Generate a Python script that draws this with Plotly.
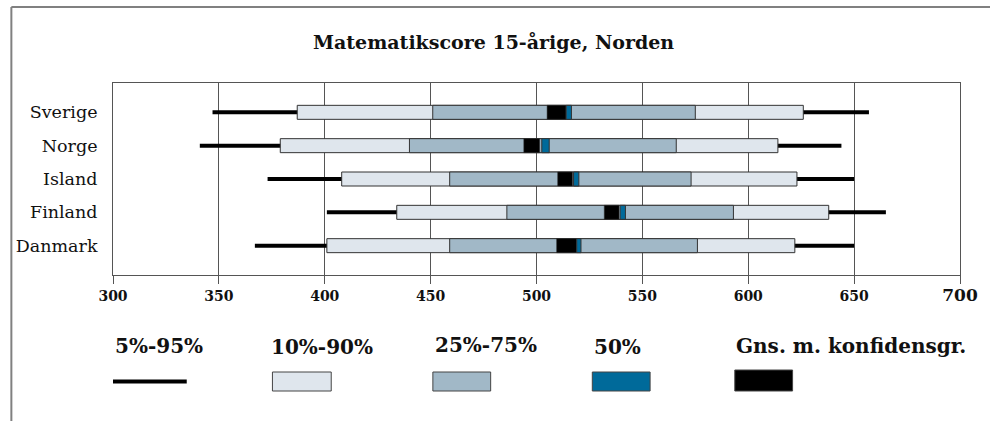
import plotly.graph_objects as go

countries = ["Sverige", "Norge", "Island", "Finland", "Danmark"]
p5 = [347, 341, 373, 401, 367]
p10 = [387, 379, 408, 434, 401]
p25 = [451, 440, 459, 486, 459]
mean_lo = [505, 494, 510, 532, 509.5]
mean_hi = [514, 501.5, 517, 539, 519]
median_lo = [514, 502.5, 517.5, 539.5, 519]
median_hi = [516.5, 506, 520, 542, 521]
p75 = [575, 566, 573, 593, 576]
p90 = [626, 614, 623, 638, 622]
p95 = [657, 644, 650, 665, 650]

tick_vals = [300, 350, 400, 450, 500, 550, 600, 650, 700]
tick_text = ["<b>300</b>", "<b>350</b>", "<b>400</b>", "<b>450</b>", "<b>500</b>",
             "<b>550</b>", "<b>600</b>", "<b>650</b>",
             "<b><span style='font-size:17px'>700</span></b>"]

legend_labels = ["5%-95%", "10%-90%", "25%-75%", "50%", "Gns. m. konfidensgr."]

C_LIGHT = "#dfe6ed"
C_MID = "#a1b8c7"
C_BLUE = "#006a9a"
C_BLACK = "#000000"
OUTLINE = "#333333"
FONT = "DejaVu Serif"

W, H = 990, 421
L, R, T, B = 113, 963, 83, 275


def px(x):
    return (x - L) / (R - L)


def py(y):
    return (B - y) / (B - T)


def span(lo, hi):
    return [h - l for l, h in zip(lo, hi)]


fig = go.Figure()
fig.add_trace(go.Bar(y=countries, base=p5, x=span(p5, p95), orientation="h",
                     width=0.12, marker=dict(color=C_BLACK, line=dict(width=0)),
                     name="5%-95%", hoverinfo="skip"))
fig.add_trace(go.Bar(y=countries, base=p10, x=span(p10, p90), orientation="h",
                     width=0.42, marker=dict(color=C_LIGHT, line=dict(width=1, color=OUTLINE)),
                     name="10%-90%"))
fig.add_trace(go.Bar(y=countries, base=p25, x=span(p25, p75), orientation="h",
                     width=0.42, marker=dict(color=C_MID, line=dict(width=1, color=OUTLINE)),
                     name="25%-75%"))
fig.add_trace(go.Bar(y=countries, base=mean_lo, x=span(mean_lo, mean_hi), orientation="h",
                     width=0.42, marker=dict(color=C_BLACK, line=dict(width=0.5, color=OUTLINE)),
                     name="Gns. m. konfidensgr."))
fig.add_trace(go.Bar(y=countries, base=median_lo, x=span(median_lo, median_hi), orientation="h",
                     width=0.42, marker=dict(color=C_BLUE, line=dict(width=1, color=OUTLINE)),
                     name="50%"))

fig.update_layout(
    width=W, height=H,
    margin=dict(l=L, r=W - R, t=T, b=H - B, pad=0),
    barmode="overlay",
    showlegend=False,
    plot_bgcolor="white", paper_bgcolor="white",
    font=dict(family=FONT, color="#111111"),
)
fig.update_xaxes(range=[300, 700], tickvals=tick_vals, ticktext=tick_text,
                 showgrid=True, gridcolor="#555555", gridwidth=1,
                 showline=True, linecolor="#555555", linewidth=1, mirror=True,
                 ticks="outside", ticklen=8, tickcolor="#555555",
                 tickfont=dict(family=FONT, size=14, color="#111111"),
                 zeroline=False)
fig.update_yaxes(categoryorder="array", categoryarray=countries,
                 range=[4.88, -0.88], showgrid=False,
                 showline=True, linecolor="#555555", linewidth=1, mirror=True,
                 ticks="", ticklabelstandoff=11,
                 tickfont=dict(family=FONT, size=17.5, color="#111111"))

shapes = []
# outer border (top and left)
shapes.append(dict(type="line", xref="paper", yref="paper", x0=px(11), x1=px(995),
                   y0=py(7), y1=py(7), line=dict(color="#808080", width=2)))
shapes.append(dict(type="line", xref="paper", yref="paper", x0=px(11), x1=px(11),
                   y0=py(7), y1=py(425), line=dict(color="#808080", width=2)))
# legend swatches
shapes.append(dict(type="line", xref="paper", yref="paper", x0=px(113), x1=px(187),
                   y0=py(381.5), y1=py(381.5), line=dict(color=C_BLACK, width=4)))
for x0, x1, col, y0, y1 in [(273, 332, C_LIGHT, 372, 391), (434, 492, C_MID, 372, 391),
                            (594, 652, C_BLUE, 372, 391), (737, 795, C_BLACK, 370, 391)]:
    shapes.append(dict(type="rect", xref="paper", yref="paper", x0=px(x0), x1=px(x1),
                       y0=py(y1), y1=py(y0), fillcolor=col,
                       line=dict(color="#444444", width=1)))
fig.update_layout(shapes=shapes)

annotations = [dict(text="<b>Matematikscore 15-årige, Norden</b>", xref="paper", yref="paper",
                    x=px(495), y=py(42), xanchor="center", yanchor="middle",
                    showarrow=False, font=dict(family=FONT, size=19, color="#111111"))]
for lab, x, y in zip(legend_labels, [113, 270, 434, 594, 736], [346, 347, 345, 347, 346]):
    annotations.append(dict(text="<b>" + lab + "</b>", xref="paper", yref="paper",
                            x=px(x), y=py(y), xanchor="left", yanchor="middle",
                            showarrow=False, font=dict(family=FONT, size=20, color="#111111")))
fig.update_layout(annotations=annotations)

fig.write_html("out.html", config={"displayModeBar": False},
               post_script="document.body.style.margin='0';document.body.style.overflow='hidden';")
